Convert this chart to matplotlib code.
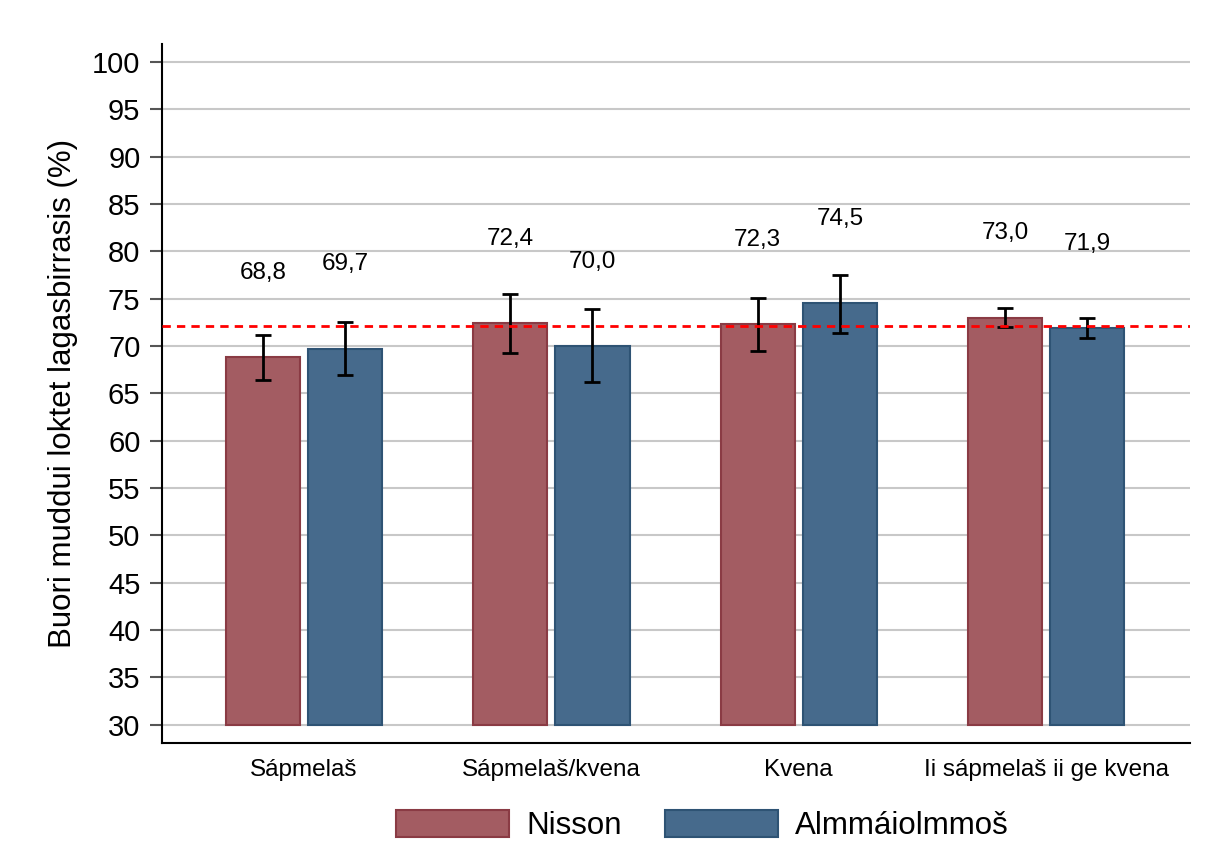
import matplotlib.pyplot as plt
import numpy as np
from matplotlib.patches import Patch

plt.rcParams['font.family'] = ['Liberation Sans', 'DejaVu Sans']

categories = ['Sápmelaš', 'Sápmelaš/kvena', 'Kvena', 'Ii sápmelaš ii ge kvena']
series = ['Nisson', 'Almmáiolmmoš']
nisson = [68.8, 72.4, 72.3, 73.0]
nisson_lo = [66.4, 69.2, 69.5, 72.0]
nisson_hi = [71.2, 75.5, 75.1, 74.0]
almm = [69.7, 70.0, 74.5, 71.9]
almm_lo = [66.9, 66.2, 71.4, 70.8]
almm_hi = [72.5, 73.9, 77.5, 72.9]
mean_line = 72.1
yticks = list(range(30, 101, 5))

red = '#a35c62'
red_edge = '#8a3b44'
blue = '#466a8c'
blue_edge = '#2e5374'

fig = plt.figure(figsize=(12.09, 8.43), dpi=100)
ax = fig.add_axes([0.134, 0.119, 0.850, 0.829])

x = np.arange(len(categories))
w = 0.30
off = 0.166
base = 30

for vals, lo, hi, dx, fc, ec in [(nisson, nisson_lo, nisson_hi, -off, red, red_edge),
                                 (almm, almm_lo, almm_hi, off, blue, blue_edge)]:
    vals = np.array(vals)
    ax.bar(x + dx, vals - base, w, bottom=base, color=fc, edgecolor=ec, linewidth=1.5, zorder=3)
    err = [vals - np.array(lo), np.array(hi) - vals]
    ax.errorbar(x + dx, vals, yerr=err, fmt='none', ecolor='black', elinewidth=2,
                capsize=5.5, capthick=2, zorder=4)
    for xi, v in zip(x + dx, vals):
        ax.text(xi, v + 8.9, f'{v:.1f}'.replace('.', ','), ha='center', va='center',
                fontsize=17.5, zorder=5)

ax.axhline(mean_line, color='red', linestyle=(0, (3, 2.2)), linewidth=2, zorder=4)

ax.set_ylim(28.1, 101.9)
ax.set_xlim(-0.574, 3.58)
ax.set_yticks(yticks)
ax.tick_params(axis='y', labelsize=21, length=9, width=1.5, color='#555555', pad=6.5)
ax.set_xticks(x)
ax.set_xticklabels(categories, fontsize=17.5)
ax.tick_params(axis='x', length=0, pad=12)
ax.grid(axis='y', color='#c8c8c8', linewidth=1.5, zorder=0)
ax.set_axisbelow(True)
for s in ['top', 'right']:
    ax.spines[s].set_visible(False)
for s in ['left', 'bottom']:
    ax.spines[s].set_linewidth(1.5)
ax.set_ylabel('Buori muddui loktet lagasbirrasis (%)', fontsize=22.5)
ax.yaxis.set_label_coords(-0.082, 0.5)

handles = [Patch(facecolor=red, edgecolor=red_edge, linewidth=1.5),
           Patch(facecolor=blue, edgecolor=blue_edge, linewidth=1.5)]
fig.legend(handles, series, loc='center', bbox_to_anchor=(0.581, 0.021), ncol=2,
           frameon=False, fontsize=22.5, handlelength=3.6, handleheight=0.95,
           handletextpad=0.55, columnspacing=1.4)

fig.savefig('out.png', dpi=100)
